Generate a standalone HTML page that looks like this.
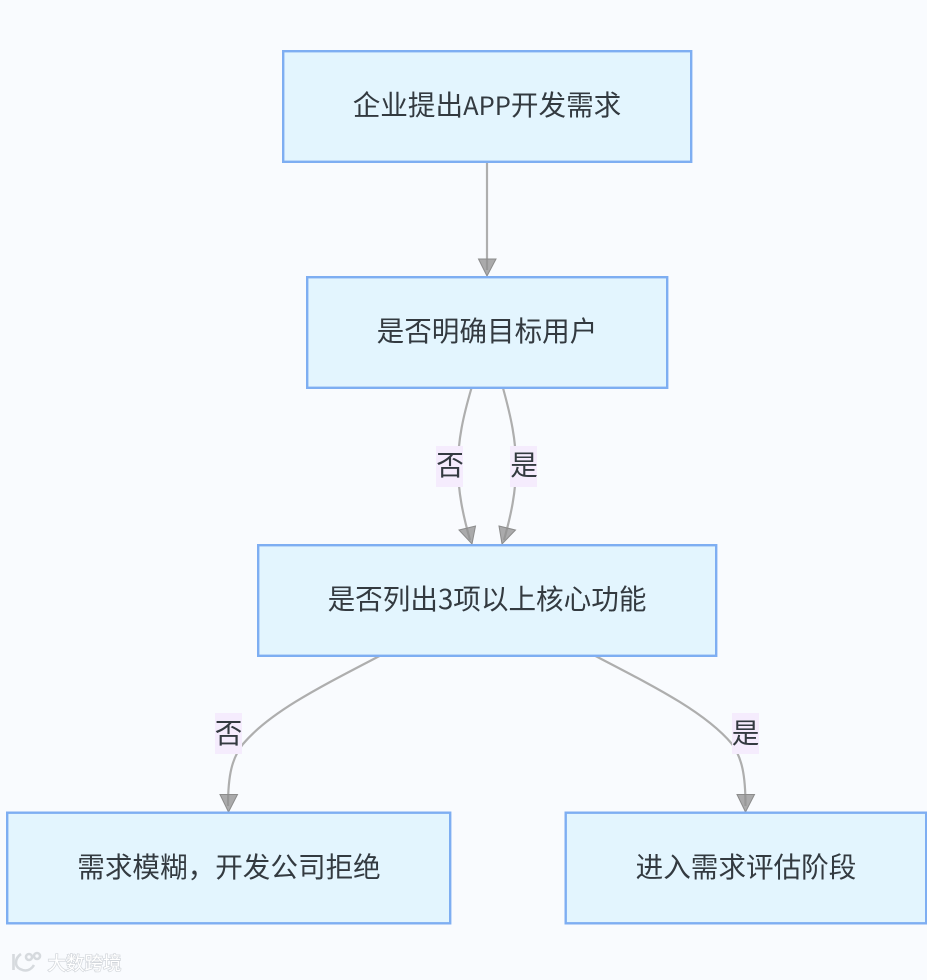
<!DOCTYPE html>
<html><head><meta charset="utf-8"><style>
html,body{margin:0;padding:0;background:#f9fbfe;width:927px;height:980px;overflow:hidden}
svg{display:block}
text{font-family:"Noto Sans CJK SC","Liberation Sans",sans-serif;font-size:27.6px;fill:#333a40;text-anchor:middle}
.n{fill:#e3f5fe;stroke:#7eaef2;stroke-width:2.4}
.e{fill:none;stroke:#aeaeae;stroke-width:2.2}
.a{fill:#8f8f8f;fill-opacity:.75;stroke:#8c8c8c;stroke-width:1}
.l{fill:#f5ecfd}
</style></head><body>
<svg width="927" height="980" viewBox="0 0 927 980" xmlns="http://www.w3.org/2000/svg">
<rect width="927" height="980" fill="#f9fbfe"/>
<path class="e" d="M487 162V270"/>
<path class="e" d="M471.500 388C463 417 458 440 458 466C458 492 463 515 470 540"/>
<path class="e" d="M503 388C511 417 516 440 516 466C516 492 511 515 504 540"/>
<path class="e" d="M379.500 656C320 687 270 712 243 744C232 758 228 775 228 806"/>
<path class="e" d="M595.500 656C655 687 705 712 732 744C742 758 745.500 775 745.500 806"/>
<path class="a" d="M478.500 259H496L487 276Z"/>
<path class="a" d="M459 530L475.500 526L472 544Z"/>
<path class="a" d="M499 526L515.500 530L502 544Z"/>
<path class="a" d="M220 794.500H237.500L228.500 812Z"/>
<path class="a" d="M737 794.500H754.500L745.500 812Z"/>
<rect class="n" x="283.200" y="51.200" width="408" height="110.600"/>
<rect class="n" x="307.200" y="277.200" width="360" height="110.600"/>
<rect class="n" x="258.200" y="545.200" width="458" height="110.600"/>
<rect class="n" x="7.200" y="812.700" width="443" height="110.600"/>
<rect class="n" x="565.700" y="812.700" width="360.500" height="110.600"/>
<rect class="l" x="436" y="446" width="27" height="41"/>
<rect class="l" x="510" y="446" width="27" height="41"/>
<rect class="l" x="215" y="713" width="27" height="41"/>
<rect class="l" x="732" y="713" width="27" height="41"/>
<text x="487" y="115">企业提出<tspan style="font-size:25.5px">APP</tspan>开发需求</text>
<text x="487" y="341">是否明确目标用户</text>
<text x="487" y="609">是否列出3项以上核心功能</text>
<text x="229" y="877">需求模糊，开发公司拒绝</text>
<text x="746" y="877">进入需求评估阶段</text>
<text x="450" y="475">否</text>
<text x="524" y="475">是</text>
<text x="228.500" y="743">否</text>
<text x="745.500" y="743">是</text>
<g fill="none" stroke="#d6dade" stroke-width="2.600">
<path d="M13.500 954V970"/><path d="M21 954C15 958 14 966 20 969C26 972 31 970 34 965"/>
<circle cx="29" cy="957" r="3"/><circle cx="37" cy="956" r="3"/>
</g>
<text x="84.500" y="970" style="font-size:18.500px;fill:#fff;stroke:#d2d6db;stroke-width:1.400;paint-order:stroke">大数跨境</text>
</svg>
</body></html>
